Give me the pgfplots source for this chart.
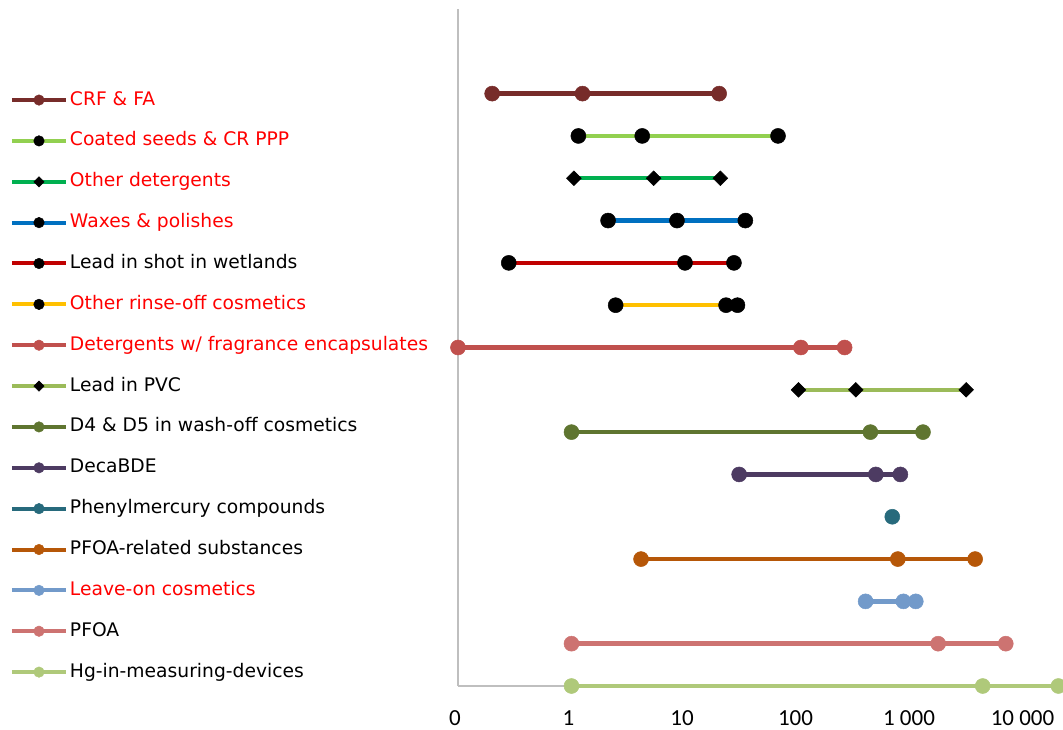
\documentclass[border=0pt]{standalone}
\usepackage{fontspec}
\setmainfont{DejaVu Sans}
\newfontfamily\calibri{Carlito}
\usepackage{pgfplots}
\pgfplotsset{compat=1.18}
\definecolor{crf}{HTML}{772C2A}
\definecolor{coated}{HTML}{92D050}
\definecolor{otherdet}{HTML}{00B050}
\definecolor{waxes}{HTML}{0070C0}
\definecolor{leadshot}{HTML}{C00000}
\definecolor{rinse}{HTML}{FFC000}
\definecolor{detfrag}{HTML}{C0504D}
\definecolor{leadpvc}{HTML}{9BBB59}
\definecolor{dfour}{HTML}{5F7530}
\definecolor{deca}{HTML}{4D3B62}
\definecolor{phenyl}{HTML}{276A7C}
\definecolor{pfoarel}{HTML}{B65708}
\definecolor{leaveon}{HTML}{729ACA}
\definecolor{pfoa}{HTML}{CD7371}
\definecolor{hg}{HTML}{AFC97A}
\definecolor{axisgray}{HTML}{BFBFBF}
\definecolor{lblred}{HTML}{FF0000}
\begin{document}
\begin{tikzpicture}
\path[use as bounding box] (0,0) rectangle (1063pt,729pt);
\begin{axis}[
  at={(458pt,43pt)}, anchor=south west,
  scale only axis, width=605pt, height=677pt,
  xmode=log, xmin=0.1, xmax=21400, ymin=0, ymax=16,
  axis x line=bottom, axis y line=left,
  axis line style={draw=axisgray, line width=1.5pt, -},
  xtick={0.1,1,10,100,1000,10000},
  xticklabels={0,1,10,100,1 000,10 000},
  major tick length=0pt, minor tick length=0pt,
  ytick=\empty,
  clip=false,
  /pgf/number format/assume math mode=true,
  xticklabel style={font=\calibri\fontsize{23}{26}\selectfont, anchor=base, yshift=-39pt, xshift=-3pt},
  legend style={at={(axis description cs:-0.7405,0.8788)}, anchor=north west,
    draw=none, fill=none, inner sep=0pt, outer sep=0pt,
    row sep=22.86pt, column sep=2pt,
    font=\fontsize{18.7}{22}\selectfont,
    nodes={inner sep=0pt, text height=14pt, text depth=4pt}},
  legend cell align=left,
  legend image code/.code={\draw[mark repeat=2,mark phase=2,every mark/.append style={scale=0.7},line width=4pt] plot coordinates {(0pt,0pt) (27pt,0pt) (54pt,0pt)};},
  every axis plot/.append style={line width=4.5pt},
]
\addplot[color=crf, mark=*, mark size=7.5pt, mark options={solid, fill=crf, draw=crf, line width=0.5pt}] coordinates {(0.2,14) (1.25,14) (20,14)};
\addlegendentry{\textcolor{lblred}{CRF \& FA}}
\addplot[color=coated, mark=*, mark size=7.5pt, mark options={solid, fill=black, draw=black, line width=0.5pt}] coordinates {(1.15,13) (4.2,13) (66,13)};
\addlegendentry{\textcolor{lblred}{Coated seeds \& CR PPP}}
\addplot[color=otherdet, mark=square*, mark size=5.2pt, mark options={solid, rotate=45, fill=black, draw=black, line width=0.5pt}] coordinates {(1.05,12) (5.3,12) (20.5,12)};
\addlegendentry{\textcolor{lblred}{Other detergents}}
\addplot[color=waxes, mark=*, mark size=7.5pt, mark options={solid, fill=black, draw=black, line width=0.5pt}] coordinates {(2.1,11) (8.5,11) (34,11)};
\addlegendentry{\textcolor{lblred}{Waxes \& polishes}}
\addplot[color=leadshot, mark=*, mark size=7.5pt, mark options={solid, fill=black, draw=black, line width=0.5pt}] coordinates {(0.28,10) (10,10) (27,10)};
\addlegendentry{Lead in shot in wetlands}
\addplot[color=rinse, mark=*, mark size=7.5pt, mark options={solid, fill=black, draw=black, line width=0.5pt}] coordinates {(2.45,9) (23,9) (29,9)};
\addlegendentry{\textcolor{lblred}{Other rinse-off cosmetics}}
\addplot[color=detfrag, mark=*, mark size=7.5pt, mark options={solid, fill=detfrag, draw=detfrag, line width=0.5pt}] coordinates {(0.1,8) (105,8) (255,8)};
\addlegendentry{\textcolor{lblred}{Detergents w/ fragrance encapsulates}}
\addplot[color=leadpvc, mark=square*, mark size=5.2pt, mark options={solid, rotate=45, fill=black, draw=black, line width=0.5pt}] coordinates {(100,7) (320,7) (3000,7)};
\addlegendentry{Lead in PVC}
\addplot[color=dfour, mark=*, mark size=7.5pt, mark options={solid, fill=dfour, draw=dfour, line width=0.5pt}] coordinates {(1,6) (430,6) (1250,6)};
\addlegendentry{D4 \& D5 in wash-off cosmetics}
\addplot[color=deca, mark=*, mark size=7.5pt, mark options={solid, fill=deca, draw=deca, line width=0.5pt}] coordinates {(30,5) (480,5) (790,5)};
\addlegendentry{DecaBDE}
\addplot[color=phenyl, mark=*, mark size=7.5pt, mark options={solid, fill=phenyl, draw=phenyl, line width=0.5pt}] coordinates {(670,4)};
\addlegendentry{Phenylmercury compounds}
\addplot[color=pfoarel, mark=*, mark size=7.5pt, mark options={solid, fill=pfoarel, draw=pfoarel, line width=0.5pt}] coordinates {(4.1,3) (750,3) (3600,3)};
\addlegendentry{PFOA-related substances}
\addplot[color=leaveon, mark=*, mark size=7.5pt, mark options={solid, fill=leaveon, draw=leaveon, line width=0.5pt}] coordinates {(390,2) (840,2) (1080,2)};
\addlegendentry{\textcolor{lblred}{Leave-on cosmetics}}
\addplot[color=pfoa, mark=*, mark size=7.5pt, mark options={solid, fill=pfoa, draw=pfoa, line width=0.5pt}] coordinates {(1,1) (1700,1) (6700,1)};
\addlegendentry{PFOA}
\addplot[color=hg, mark=*, mark size=7.5pt, mark options={solid, fill=hg, draw=hg, line width=0.5pt}] coordinates {(1,0) (4200,0) (19500,0)};
\addlegendentry{Hg-in-measuring-devices}
\end{axis}
\end{tikzpicture}
\end{document}
